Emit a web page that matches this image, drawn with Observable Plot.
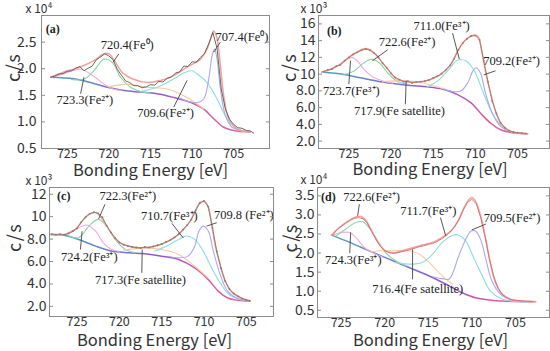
<!DOCTYPE html>
<html><head><meta charset="utf-8">
<script src="https://cdn.jsdelivr.net/npm/d3@7"></script>
<script src="https://cdn.jsdelivr.net/npm/@observablehq/plot@0.6"></script>
<style>
body{margin:0;background:#fff;}
#wrap{position:relative;width:550px;height:351px;overflow:hidden;background:#fff;}
.panel{position:absolute;}
.panel svg{overflow:visible;}
</style></head><body><div id="wrap"></div>
<script>
// ---------- shared ----------
const xTicks = [725, 720, 715, 710, 705];

// ---------- panel (a) ----------
const aYTicks = [0.5, 1.0, 1.5, 2.0, 2.5];
const aRaw = [[727.0,1.84],[726.5,1.86],[726.0,1.90],[725.5,1.91],[725.0,1.95],[724.5,1.96],[724.0,2.01],[723.5,2.04],[723.0,1.96],[722.5,2.01],[722.0,2.05],[721.5,2.17],[721.0,2.22],[720.5,2.28],[720.0,2.24],[719.5,2.17],[719.0,1.99],[718.5,1.88],[718.0,1.77],[717.5,1.74],[717.0,1.68],[716.5,1.68],[716.0,1.64],[715.5,1.66],[715.0,1.70],[714.5,1.69],[714.0,1.76],[713.5,1.75],[713.0,1.82],[712.5,1.84],[712.0,1.92],[711.5,1.94],[711.0,2.05],[710.5,2.04],[710.0,2.13],[709.5,2.12],[709.0,2.21],[708.5,2.29],[708.0,2.47],[707.5,2.68],[707.0,2.38],[706.5,1.62],[706.0,1.24],[705.5,1.05],[705.0,0.95],[704.5,0.89],[704.0,0.88],[703.5,0.84],[703.0,0.83],[702.6,0.79]];
const aEnv = [[727.0,1.84],[726.0,1.90],[725.0,1.96],[724.2,1.99],[723.0,2.06],[721.8,2.15],[720.6,2.28],[720.0,2.28],[719.2,2.12],[718.4,1.93],[717.2,1.81],[715.4,1.74],[713.8,1.78],[712.2,1.87],[710.6,2.03],[709.0,2.18],[708.2,2.37],[707.6,2.65],[707.4,2.71],[707.0,2.56],[706.6,2.06],[706.2,1.49],[705.6,1.06],[704.6,0.87],[703.0,0.81]];
const aBg = [[727.0,1.84],[724.2,1.81],[722.2,1.74],[720.2,1.65],[718.2,1.59],[716.2,1.56],[714.2,1.53],[712.2,1.46],[710.2,1.37],[708.6,1.24],[707.4,1.06],[706.2,0.90],[705.0,0.84],[703.0,0.81]];
const aFe2_723 = [[727.0,1.84],[725.5,1.90],[724.2,1.97],[723.4,1.99],[722.5,1.93],[721.5,1.82],[720.5,1.70],[719.5,1.62],[718.5,1.59]];
const aFe0_720 = [[724.5,1.80],[723.0,1.80],[721.8,1.96],[720.6,2.18],[719.6,2.12],[718.6,1.84],[717.4,1.65],[716.2,1.57],[715.0,1.54]];
const aSat = [[720.0,1.66],[717.8,1.71],[715.4,1.65],[713.0,1.62],[710.6,1.46],[708.6,1.24]];
const aFe2_709 = [[716.2,1.57],[714.2,1.65],[712.2,1.81],[710.9,1.93],[710.0,1.96],[709.4,1.90],[708.2,1.74],[707.0,1.43],[705.8,1.06],[704.6,0.87],[703.0,0.81]];
const aFe0_707 = [[711.5,1.45],[710.4,1.38],[709.4,1.36],[708.6,1.43],[708.0,1.81],[707.6,2.24],[707.3,2.37],[707.0,2.18],[706.6,1.62],[706.0,1.12],[705.2,0.90],[704.2,0.84],[703.0,0.81]];
const aLabels = [
  {t:"720.4(Fe\u2070)", x:717.8, y:2.44, x1:718.8, y1:2.28, x2:719.5, y2:2.12},
  {t:"707.4(Fe\u2070)", x:704.0, y:2.59, x1:706.6, y1:2.50, x2:707.4, y2:2.31},
  {t:"723.3(Fe\u00B2\u207A)", x:722.9, y:1.41, x1:723.4, y1:1.53, x2:723.0, y2:1.84},
  {t:"709.6(Fe\u00B2\u207A)", x:713.2, y:1.16, x1:712.2, y1:1.28, x2:710.6, y2:1.78}
];

// ---------- panel (b) ----------
const bYTicks = [2, 4, 6, 8, 10, 12, 14, 16];
const bRaw = [[728.0,10.3],[727.5,10.5],[727.0,10.6],[726.5,10.95],[726.0,11.1],[725.5,11.6],[725.0,12.0],[724.5,12.35],[724.0,12.6],[723.5,12.85],[723.0,13.0],[722.5,12.85],[722.0,12.5],[721.5,12.0],[721.0,11.3],[720.5,10.75],[720.0,10.1],[719.5,9.6],[719.0,9.35],[718.5,9.1],[718.0,9.15],[717.5,8.95],[717.0,9.05],[716.5,9.1],[716.0,9.15],[715.5,9.3],[715.0,9.55],[714.5,9.75],[714.0,10.05],[713.5,10.5],[713.0,11.05],[712.5,11.85],[712.0,12.9],[711.5,13.7],[711.0,14.2],[710.5,14.55],[710.0,14.6],[709.5,14.1],[709.0,11.6],[708.5,9.1],[708.0,6.8],[707.5,5.3],[707.0,4.2],[706.5,3.6],[706.0,3.25],[705.5,3.1],[705.0,3.0],[704.5,2.95],[704.0,2.9]];
const bEnv = [[728.2,10.24],[727.2,10.56],[726.0,11.16],[724.8,12.16],[723.8,12.76],[723.2,13.04],[722.6,12.96],[721.8,12.36],[721.0,11.36],[720.2,10.36],[719.5,9.56],[718.5,9.16],[716.9,9.04],[715.3,9.36],[714.1,9.96],[712.9,11.16],[712.1,12.76],[711.3,13.96],[710.5,14.56],[709.9,14.64],[709.6,14.36],[709.2,12.56],[708.8,10.36],[708.2,7.76],[707.6,5.56],[707.0,4.16],[706.2,3.36],[705.0,2.96],[703.8,2.88]];
const bBg = [[728.2,10.24],[725.6,9.96],[723.6,9.56],[721.6,9.16],[719.7,8.88],[717.7,8.64],[715.7,8.48],[713.7,8.16],[712.1,7.56],[710.5,6.56],[709.4,5.36],[708.2,4.16],[707.0,3.36],[705.8,3.04],[703.8,2.88]];
const bFe3_723 = [[728.2,10.24],[726.4,10.96],[725.4,11.7],[724.7,12.0],[724.0,11.6],[723.2,10.56],[722.0,9.56],[720.8,9.16],[719.8,8.9]];
const bFe2_722 = [[725.6,9.96],[724.4,10.36],[723.2,11.36],[722.4,11.76],[721.4,11.36],[720.4,10.16],[719.3,9.16],[718.1,8.84]];
const bSat = [[721.0,9.1],[719.5,9.2],[718.0,9.2],[716.5,9.0],[715.0,8.6],[713.5,8.2]];
const bFe3_711 = [[715.7,8.48],[714.5,9.16],[713.3,10.36],[712.1,11.68],[711.1,11.56],[710.1,10.36],[709.2,8.16],[708.2,5.76],[707.2,4.16],[705.8,3.16],[703.8,2.9]];
const bFe2_709 = [[713.7,8.16],[712.5,7.9],[711.7,8.0],[710.9,8.96],[710.3,10.36],[709.9,10.76],[709.4,10.16],[708.8,7.76],[708.0,5.36],[707.0,3.76],[705.8,3.12],[703.8,2.9]];
const bLabels = [
  {t:"722.6(Fe\u00B2\u207A)", x:718.1, y:13.8, x1:720.4, y1:12.9, x2:722.2, y2:11.6},
  {t:"711.0(Fe\u00B3\u207A)", x:714.0, y:15.8, x1:712.7, y1:14.9, x2:711.9, y2:11.8},
  {t:"709.2(Fe\u00B2\u207A)", x:705.7, y:11.6, x1:707.6, y1:10.4, x2:709.0, y2:9.9},
  {t:"723.7(Fe\u00B3\u207A)", x:724.7, y:8.0, x1:725.0, y1:8.8, x2:724.8, y2:11.6},
  {t:"717.9(Fe satellite)", x:719.0, y:5.6, x1:718.3, y1:6.4, x2:718.2, y2:9.2}
];

// ---------- panel (c) ----------
const cYTicks = [2, 4, 6, 8, 10, 12];
const cRaw = [[728.0,8.45],[727.5,8.4],[727.0,8.45],[726.5,8.4],[726.0,8.5],[725.5,8.7],[725.0,8.95],[724.5,9.5],[724.0,9.95],[723.5,10.25],[723.0,10.4],[722.5,10.3],[722.0,9.95],[721.5,9.2],[721.0,8.6],[720.5,8.1],[720.0,7.7],[719.5,7.5],[719.0,7.4],[718.5,7.3],[718.0,7.25],[717.5,7.2],[717.0,7.3],[716.5,7.25],[716.0,7.35],[715.5,7.45],[715.0,7.55],[714.5,7.75],[714.0,7.9],[713.5,8.15],[713.0,8.45],[712.5,8.85],[712.0,9.25],[711.5,9.75],[711.0,10.55],[710.5,11.2],[710.0,11.4],[709.5,10.9],[709.0,9.0],[708.5,6.9],[708.0,5.4],[707.5,4.25],[707.0,3.55],[706.5,3.15],[706.0,2.9],[705.5,2.7],[705.0,2.55],[704.6,2.5]];
const cEnv = [[728.1,8.42],[726.4,8.42],[725.2,8.87],[724.4,9.61],[723.6,10.21],[722.8,10.36],[722.3,10.06],[721.5,9.16],[720.7,8.27],[719.9,7.67],[718.9,7.37],[717.4,7.22],[715.8,7.37],[714.2,7.82],[713.0,8.42],[711.9,9.31],[711.1,10.36],[710.5,11.25],[709.9,11.34],[709.5,10.81],[709.1,9.31],[708.7,7.52],[708.1,5.73],[707.5,4.24],[706.8,3.34],[705.6,2.75],[704.6,2.51]];
const cBg = [[728.1,8.42],[726.4,8.33],[724.8,7.97],[722.8,7.37],[720.9,6.93],[718.9,6.78],[717.0,6.69],[715.0,6.48],[713.0,6.18],[711.1,5.43],[709.5,4.39],[708.3,3.34],[707.2,2.75],[706.0,2.54],[704.6,2.45]];
const cFe3_724 = [[726.4,8.42],[724.8,9.01],[723.9,9.25],[722.8,8.72],[721.9,7.67],[720.9,7.07],[720.0,6.9]];
const cFe2_722 = [[726.0,8.3],[724.8,8.12],[723.6,9.16],[722.5,9.76],[721.5,9.16],[720.5,7.97],[719.3,7.07],[718.1,6.78]];
const cSat = [[719.5,7.0],[718.9,7.07],[717.0,7.22],[715.0,7.07],[713.0,6.63],[711.1,5.58],[709.5,4.5]];
const cFe3_710 = [[715.8,6.93],[714.2,7.46],[713.0,7.97],[712.1,8.27],[711.1,7.97],[710.1,6.93],[709.1,5.43],[708.1,4.09],[707.0,3.04],[705.6,2.60],[704.6,2.47]];
const cFe2_709 = [[714.2,6.45],[713.0,6.33],[711.9,6.48],[711.1,7.37],[710.6,8.72],[710.1,9.16],[709.5,8.72],[708.9,6.93],[708.1,4.84],[707.2,3.34],[706.0,2.69],[704.6,2.47]];
const cLabels = [
  {t:"722.3(Fe\u00B2\u207A)", x:719.0, y:11.8, x1:721.7, y1:11.1, x2:722.45, y2:9.8},
  {t:"710.7(Fe\u00B3\u207A)", x:714.1, y:10.06, x1:713.8, y1:9.4, x2:712.45, y2:8.1},
  {t:"709.8 (Fe\u00B2\u207A)", x:705.3, y:10.15, x1:708.5, y1:9.46, x2:709.7, y2:9.16},
  {t:"724.2(Fe\u00B3\u207A)", x:723.55, y:6.42, x1:724.6, y1:7.07, x2:724.4, y2:8.7},
  {t:"717.3(Fe satellite)", x:717.5, y:4.33, x1:717.35, y1:4.99, x2:717.3, y2:7.07}
];

// ---------- panel (d) ----------
const dYTicks = [0.5, 1.0, 1.5, 2.0, 2.5, 3.0, 3.5];
const dRaw = [[726.0,2.46],[725.5,2.60],[725.0,2.69],[724.5,2.78],[724.0,2.85],[723.5,2.91],[723.0,2.93],[722.5,2.90],[722.0,2.79],[721.5,2.57],[721.0,2.36],[720.5,2.18],[720.0,2.06],[719.5,2.01],[719.0,1.99],[718.5,2.01],[718.0,2.04],[717.5,2.06],[717.0,2.10],[716.5,2.13],[716.0,2.17],[715.5,2.19],[715.0,2.23],[714.5,2.25],[714.0,2.30],[713.5,2.37],[713.0,2.45],[712.5,2.55],[712.0,2.68],[711.5,2.86],[711.0,3.12],[710.5,3.33],[710.0,3.41],[709.5,3.30],[709.0,2.94],[708.5,2.44],[708.0,1.86],[707.5,1.40],[707.0,1.08],[706.5,0.91],[706.0,0.83],[705.5,0.78],[705.0,0.76],[704.0,0.74],[703.0,0.73]];
const dEnv = [[726.1,2.47],[725.2,2.67],[724.2,2.84],[723.3,2.95],[722.7,2.96],[722.1,2.84],[721.4,2.54],[720.6,2.23],[719.9,2.06],[718.9,2.01],[718.0,2.06],[716.8,2.14],[715.7,2.21],[714.5,2.28],[713.4,2.41],[712.2,2.63],[711.5,2.89],[710.9,3.19],[710.3,3.41],[710.0,3.46],[709.6,3.37],[709.0,2.98],[708.4,2.36],[707.9,1.75],[707.3,1.23],[706.5,0.92],[705.6,0.79],[704.2,0.74],[702.7,0.73]];
const dBg = [[726.1,2.47],[724.0,2.28],[721.8,2.06],[719.5,1.84],[717.2,1.62],[714.9,1.40],[712.6,1.14],[711.1,0.96],[709.6,0.83],[708.0,0.77],[706.5,0.74],[702.7,0.72]];
const dFe3_724 = [[726.1,2.47],[724.8,2.54],[724.0,2.54],[723.3,2.41],[722.3,2.14],[721.2,1.99],[720.3,1.90]];
const dFe2_722 = [[725.6,2.45],[724.4,2.64],[723.3,2.80],[722.5,2.82],[721.8,2.67],[720.8,2.32],[719.9,2.01],[718.7,1.79],[717.5,1.66]];
const dSat = [[721.5,2.04],[720.2,2.06],[718.7,2.06],[717.2,2.06],[716.0,1.97],[714.7,1.71],[713.4,1.40],[712.2,1.18]];
const dFe3_711 = [[718.7,1.75],[716.8,1.71],[715.7,1.75],[714.5,1.97],[713.4,2.28],[712.2,2.47],[711.5,2.47],[710.7,2.32],[709.8,1.88],[708.8,1.40],[707.9,1.01],[706.7,0.81],[705.4,0.74],[703.5,0.72]];
const dFe2_709 = [[714.5,1.38],[713.4,1.33],[712.6,1.32],[711.5,1.93],[710.7,2.36],[710.1,2.58],[709.6,2.58],[709.0,2.36],[708.4,1.84],[707.7,1.27],[706.7,0.92],[705.4,0.77],[703.5,0.73]];
const dLabels = [
  {t:"722.6(Fe\u00B2\u207A)", x:721.5, y:3.46, x1:722.9, y1:3.28, x2:723.1, y2:2.98},
  {t:"711.7(Fe\u00B3\u207A)", x:715.0, y:3.11, x1:713.6, y1:2.93, x2:713.0, y2:2.45},
  {t:"709.5(Fe\u00B2\u207A)", x:705.4, y:2.93, x1:708.4, y1:2.76, x2:710.0, y2:2.61},
  {t:"724.3(Fe\u00B3\u207A)", x:723.6, y:1.82, x1:724.0, y1:2.00, x2:723.9, y2:2.54},
  {t:"716.4(Fe satellite)", x:716.2, y:1.05, x1:716.8, y1:1.31, x2:716.8, y2:2.10}
];

// ---------- styles ----------
const C = {pink:"#f3aadd", green:"#8dd3a8", cyan:"#8adde6", blue:"#a9a9f2", sat:"#f7ca9c", env:"#f3a0a0"};
const fmtA = d => d.toFixed(1);
const fmtB = d => d >= 10 ? String(d) : d.toFixed(1);
const SANS = "'Noto Sans CJK JP','Noto Sans',sans-serif";

const panels = [
  {id:"a", left:0, top:0, w:275, h:175, m:[41,6,15,27], xd:[728.1,700.7], yd:[0.5,3.0], yt:aYTicks, fmt:fmtA, pad:5,
   expo:"x 10\u2074", ex:[-16,-6.5], cs:-27, tx:[-5,22], tag:"(a)", tagXY:[727.6,2.75],
   raw:aRaw, rawColor:"#5a5a46", rawDots:false, env:aEnv, bg:aBg, labels:aLabels,
   curves:[[aFe2_723,C.pink],[aFe0_720,C.green],[aSat,C.sat],[aFe2_709,C.cyan],[aFe0_707,C.blue]]},
  {id:"b", left:275, top:0, w:275, h:175, m:[43,1,15,27], xd:[728.6,701.2], yd:[1.12,17.0], yt:bYTicks, fmt:fmtB, pad:3,
   expo:"x 10\u00B3", ex:[-18,-6.5], cs:-28, tx:[-4,21], tag:"(b)", tagXY:[727.6,15.1],
   raw:bRaw, rawColor:"#a57868", rawDots:true, env:bEnv, bg:bBg, labels:bLabels,
   curves:[[bFe3_723,C.pink],[bFe2_722,C.green],[bSat,C.sat],[bFe3_711,C.cyan],[bFe2_709,C.blue]]},
  {id:"c", left:0, top:175, w:275, h:176, m:[49,2,12,35], xd:[728.25,701.8], yd:[1.1,12.6], yt:cYTicks, fmt:fmtB, pad:3,
   expo:"x 10\u00B3", ex:[-24,-6.5], cs:-34, tx:[-7,24], tag:"(c)", tagXY:[727.35,11.85],
   raw:cRaw, rawColor:"#8a7a6a", rawDots:true, env:cEnv, bg:cBg, labels:cLabels,
   curves:[[cFe3_724,C.pink],[cFe2_722,C.green],[cSat,C.sat],[cFe3_710,C.cyan],[cFe2_709,C.blue]]},
  {id:"d", left:275, top:175, w:275, h:176, m:[42,1,12,34], xd:[727.7,701.1], yd:[0.31,3.72], yt:dYTicks, fmt:fmtA, pad:3,
   expo:"x 10\u2074", ex:[-17,-7], cs:-26, tx:[-3,23], tag:"(d)", tagXY:[727.3,3.46],
   raw:dRaw, rawColor:"#cf6e6e", rawDots:false, env:dEnv, bg:dBg, labels:dLabels,
   curves:[[dFe3_724,C.pink],[dFe2_722,C.green],[dSat,C.sat],[dFe3_711,C.cyan],[dFe2_709,C.blue]]}
];

const X = d => d[0], Y = d => d[1];
const wrap = document.getElementById("wrap");

for (const p of panels) {
  const marks = [
    Plot.line(p.bg, {x:X, y:Y, stroke:`url(#grad-${p.id})`, strokeWidth:1.5, curve:"catmull-rom"}),
    ...p.curves.map(([data, color]) => Plot.line(data, {x:X, y:Y, stroke:color, strokeWidth:1.1, curve:"catmull-rom"})),
    Plot.line(p.env, {x:X, y:Y, stroke:C.env, strokeWidth:1.5, curve:"catmull-rom"}),
    Plot.line(p.raw, {x:X, y:Y, stroke:p.rawColor, strokeWidth:0.9}),
    p.rawDots ? Plot.dot(p.raw, {x:X, y:Y, r:0.9, fill:p.rawColor, stroke:null}) : null,
    Plot.link(p.labels, {x1:"x1", y1:"y1", x2:"x2", y2:"y2", stroke:"#444", strokeWidth:0.9}),
    Plot.text(p.labels, {x:"x", y:"y", text:"t", fontFamily:"'Liberation Serif',serif", fontSize:12.5, fill:"#222"}),
    Plot.text([p.tag], {x:() => p.tagXY[0], y:() => p.tagXY[1], text:d => d, textAnchor:"start", fontFamily:"'Liberation Serif',serif", fontWeight:"bold", fontSize:12, fill:"#222"}),
    Plot.frame({stroke:"#8c8c8c"}),
    Plot.axisY(p.yt, {anchor:"left", tickSize:0, tickPadding:p.pad, tickFormat:p.fmt, fontSize:14}),
    Plot.axisY(p.yt, {anchor:"left", tickSize:-4, tickFormat:() => "", stroke:"#8c8c8c"}),
    Plot.axisY(p.yt, {anchor:"right", tickSize:-4, tickFormat:() => "", stroke:"#8c8c8c"}),
    Plot.axisX(xTicks, {anchor:"bottom", tickSize:0, tickPadding:1, fontSize:12.5}),
    Plot.text(["c/s"], {frameAnchor:"left", dx:p.cs, rotate:-90, text:d => d, fontSize:18, fill:"#333"}),
    Plot.text(["Bonding Energy [eV]"], {frameAnchor:"bottom", dx:p.tx[0], dy:p.tx[1], lineAnchor:"middle", text:d => d, fontSize:16.5, fill:"#333"}),
    Plot.text([p.expo], {frameAnchor:"top-left", dx:p.ex[0], dy:p.ex[1], textAnchor:"start", lineAnchor:"middle", text:d => d, fontSize:12, fill:"#333"})
  ].filter(Boolean);
  const svg = Plot.plot({
    width:p.w, height:p.h,
    marginLeft:p.m[0], marginRight:p.m[1], marginTop:p.m[2], marginBottom:p.m[3],
    x:{domain:p.xd, label:null},
    y:{domain:p.yd, label:null},
    style:{fontFamily:SANS, color:"#333", background:"transparent", overflow:"visible"},
    marks
  });
  const ns = "http://www.w3.org/2000/svg";
  const defs = document.createElementNS(ns, "defs");
  defs.innerHTML = `<linearGradient id="grad-${p.id}" x1="0" x2="1" y1="0" y2="0">
    <stop offset="0" stop-color="#4fa6b4"/><stop offset="0.3" stop-color="#6f78d2"/>
    <stop offset="0.55" stop-color="#9658cc"/><stop offset="0.78" stop-color="#d85aa0"/>
    <stop offset="1" stop-color="#e46a9c"/></linearGradient>`;
  svg.insertBefore(defs, svg.firstChild);
  svg.querySelectorAll("text").forEach(t => { if (t.textContent === "c/s") t.setAttribute("letter-spacing", "1.5"); });
  const div = document.createElement("div");
  div.className = "panel";
  div.style.left = p.left + "px";
  div.style.top = p.top + "px";
  div.appendChild(svg);
  wrap.appendChild(div);
}
</script>
</body></html>
